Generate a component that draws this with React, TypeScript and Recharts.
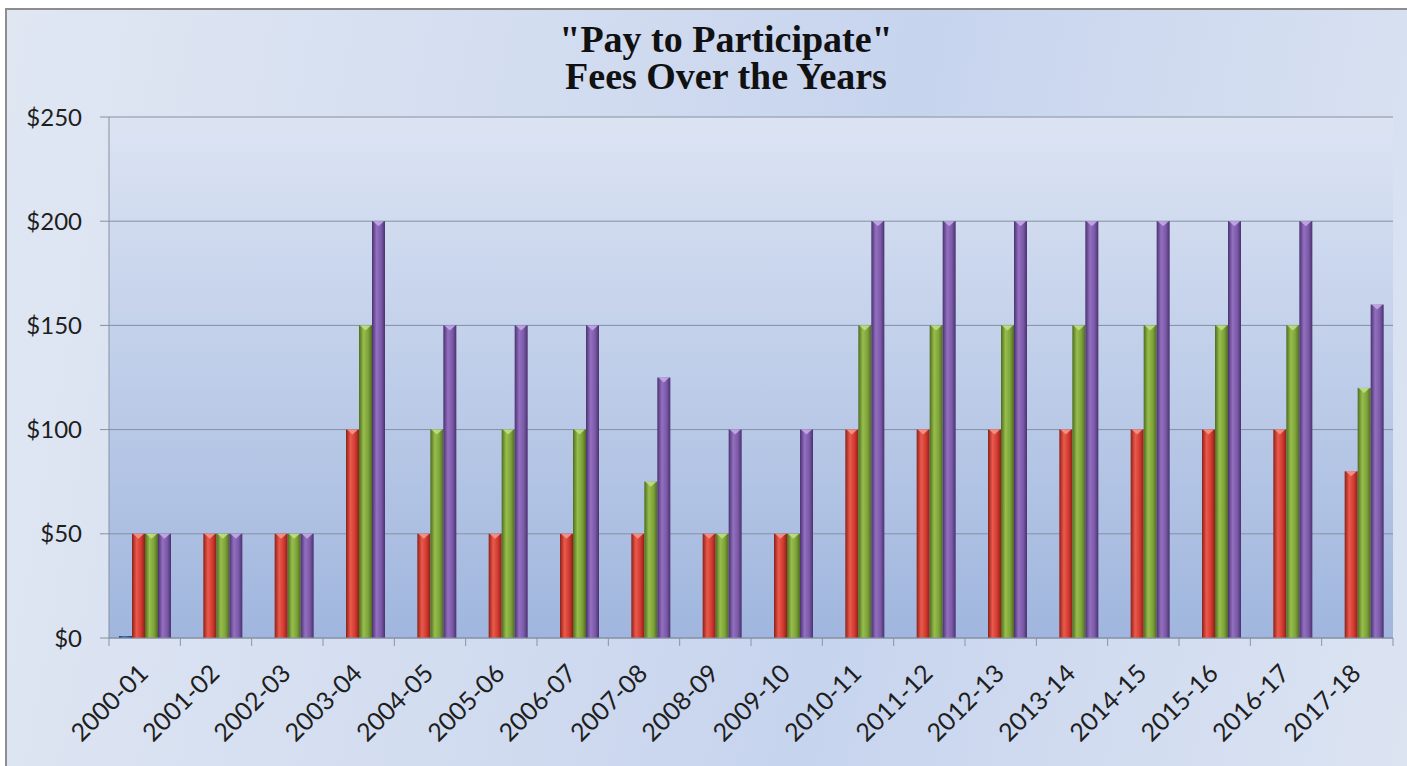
import { Bar, BarChart, CartesianGrid, XAxis, YAxis } from 'recharts'

const categories = [
  '2000-01', '2001-02', '2002-03', '2003-04', '2004-05', '2005-06',
  '2006-07', '2007-08', '2008-09', '2009-10', '2010-11', '2011-12',
  '2012-13', '2013-14', '2014-15', '2015-16', '2016-17', '2017-18'
]
const blueValues = [0, null, null, null, null, null, null, null, null, null, null, null, null, null, null, null, null, null]
const redValues = [50, 50, 50, 100, 50, 50, 50, 50, 50, 50, 100, 100, 100, 100, 100, 100, 100, 80]
const greenValues = [50, 50, 50, 150, 100, 100, 100, 75, 50, 50, 150, 150, 150, 150, 150, 150, 150, 120]
const purpleValues = [50, 50, 50, 200, 150, 150, 150, 125, 100, 100, 200, 200, 200, 200, 200, 200, 200, 160]
const yTicks = [0, 50, 100, 150, 200, 250]

const data = categories.map((year, i) => ({
  year,
  blue: blueValues[i],
  red: redValues[i],
  green: greenValues[i],
  purple: purpleValues[i]
}))

const AXIS_FONT = 'Lato, "Open Sans", sans-serif'

function YearTick(props: any) {
  const { x, y, payload, index, visibleTicksCount } = props
  const half = payload.offset || 0
  const last = index === visibleTicksCount - 1
  const tx = x + 5
  const ty = y + 37
  return (
    <g>
      <line x1={x - half} y1={y} x2={x - half} y2={y + 8} stroke="#8a93a3" />
      {last && <line x1={x + half} y1={y} x2={x + half} y2={y + 8} stroke="#8a93a3" />}
      <text
        x={tx}
        y={ty}
        textAnchor="end"
        transform={`rotate(-45, ${tx}, ${ty})`}
        fontFamily={AXIS_FONT}
        fontSize={25}
        fill="#1e1e1e"
      >
        {payload.value}
      </text>
    </g>
  )
}

// cylinder-like bar with a lighter cap
function makeShape(fillId: string, cap: string) {
  return (props: any) => {
    const { x, y, width, height } = props
    if (!height || height <= 0) return <g />
    const capH = Math.min(5, height)
    return (
      <g>
        <rect x={x} y={y} width={width} height={height} fill={`url(#${fillId})`} />
        <path
          d={`M${x + 1},${y} L${x + width - 1},${y} L${x + width / 2},${y + capH} Z`}
          fill={cap}
          opacity={0.85}
        />
      </g>
    )
  }
}

function gradient(id: string, edge: string, mid: string, light: string) {
  return (
    <linearGradient id={id} x1="0" y1="0" x2="1" y2="0">
      <stop offset="0%" stopColor={edge} />
      <stop offset="35%" stopColor={light} />
      <stop offset="70%" stopColor={mid} />
      <stop offset="100%" stopColor={edge} />
    </linearGradient>
  )
}

export default function App() {
  return (
    <div style={{ position: 'absolute', left: 0, top: 0, width: 1407, height: 766, background: '#fff', overflow: 'hidden' }}>
      <div
        style={{
          position: 'absolute',
          left: 5,
          top: 8,
          width: 1402,
          height: 758,
          borderLeft: '2px solid #8d8d8d',
          borderTop: '2px solid #8d8d8d',
          background: 'linear-gradient(100deg, #e0e7f3 0%, #d3ddf0 35%, #c7d4ee 60%, #dce4f2 100%)'
        }}
      />
      <div
        style={{
          position: 'absolute',
          left: 0,
          top: 21,
          width: 1452,
          textAlign: 'center',
          fontFamily: '"Liberation Serif", "Times New Roman", serif',
          fontWeight: 'bold',
          fontSize: 38,
          lineHeight: '37px',
          color: '#111'
        }}
      >
        <div>"Pay to Participate"</div>
        <div>Fees Over the Years</div>
      </div>
      <div style={{ position: 'absolute', left: 0, top: 0 }}>
        <BarChart
          width={1407}
          height={766}
          data={data}
          margin={{ top: 117, right: 14, bottom: 28, left: 9 }}
          barCategoryGap={10}
          barGap={0}
        >
          <defs>
            <linearGradient id="plotBg" x1="0" y1="0" x2="0" y2="1">
              <stop offset="0%" stopColor="#dce4f3" />
              <stop offset="100%" stopColor="#a0b6de" />
            </linearGradient>
            {gradient('redBar', '#8e1f18', '#d23a30', '#ea5a4c')}
            {gradient('greenBar', '#4f6b1f', '#7ea33a', '#97be4c')}
            {gradient('purpleBar', '#4a3170', '#7c5aa8', '#936fc0')}
            {gradient('blueBar', '#1b3d6e', '#2f609e', '#3f74b5')}
          </defs>
          <CartesianGrid vertical={false} stroke="#8690a0" fill="url(#plotBg)" fillOpacity={1} />
          <XAxis
            dataKey="year"
            interval={0}
            height={100}
            tickSize={0}
            tickMargin={0}
            tickLine={false}
            axisLine={{ stroke: '#8690a0' }}
            tick={<YearTick />}
          />
          <YAxis
            width={100}
            domain={[0, 250]}
            ticks={yTicks}
            tickFormatter={v => `$${v}`}
            tickSize={9}
            tickMargin={18}
            axisLine={{ stroke: '#8690a0' }}
            tickLine={{ stroke: '#8690a0' }}
            tick={{ fontFamily: AXIS_FONT, fontSize: 24, fill: '#1e1e1e' }}
          />
          <Bar
            dataKey="blue"
            fill="url(#blueBar)"
            isAnimationActive={false}
            minPointSize={(v: any) => (v === 0 ? 2 : 0)}
          />
          <Bar dataKey="red" fill="url(#redBar)" shape={makeShape('redBar', '#f59a90')} isAnimationActive={false} />
          <Bar dataKey="green" fill="url(#greenBar)" shape={makeShape('greenBar', '#c3e08a')} isAnimationActive={false} />
          <Bar dataKey="purple" fill="url(#purpleBar)" shape={makeShape('purpleBar', '#c7aee8')} isAnimationActive={false} />
        </BarChart>
      </div>
    </div>
  )
}
